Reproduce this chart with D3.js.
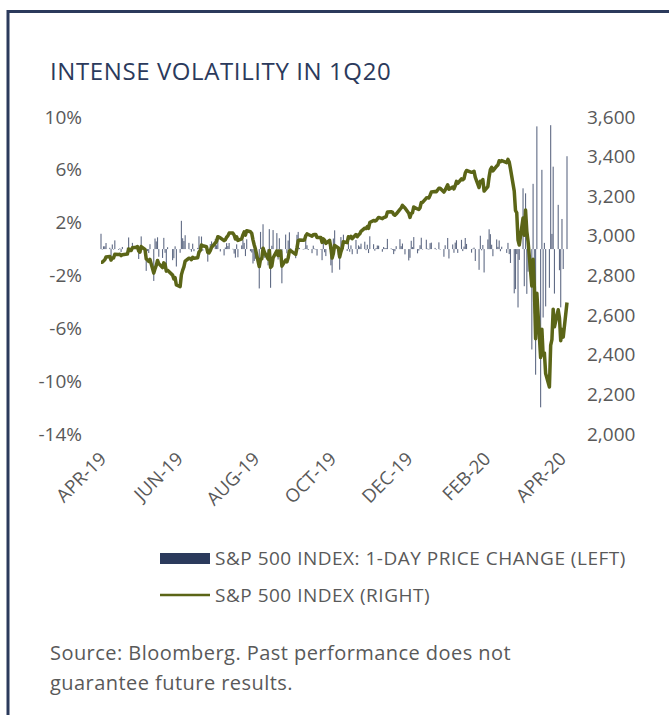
<!DOCTYPE html>
<html>
<head>
<meta charset="utf-8">
<script src="https://cdn.jsdelivr.net/npm/d3@7"></script>
<style>
body{margin:0;background:#fff;}
svg text{font-family:"Open Sans",sans-serif;}
</style>
</head>
<body>
<svg id="chart" width="669" height="715"></svg>
<script>
// trading days, Apr 2019 - Apr 2020
var dates = [
"2019-04-01","2019-04-02","2019-04-03","2019-04-04","2019-04-05","2019-04-08","2019-04-09","2019-04-10","2019-04-11","2019-04-12","2019-04-15","2019-04-16","2019-04-17","2019-04-18","2019-04-22","2019-04-23","2019-04-24","2019-04-25","2019-04-26","2019-04-29","2019-04-30",
"2019-05-01","2019-05-02","2019-05-03","2019-05-06","2019-05-07","2019-05-08","2019-05-09","2019-05-10","2019-05-13","2019-05-14","2019-05-15","2019-05-16","2019-05-17","2019-05-20","2019-05-21","2019-05-22","2019-05-23","2019-05-24","2019-05-28","2019-05-29","2019-05-30","2019-05-31",
"2019-06-03","2019-06-04","2019-06-05","2019-06-06","2019-06-07","2019-06-10","2019-06-11","2019-06-12","2019-06-13","2019-06-14","2019-06-17","2019-06-18","2019-06-19","2019-06-20","2019-06-21","2019-06-24","2019-06-25","2019-06-26","2019-06-27","2019-06-28",
"2019-07-01","2019-07-02","2019-07-03","2019-07-05","2019-07-08","2019-07-09","2019-07-10","2019-07-11","2019-07-12","2019-07-15","2019-07-16","2019-07-17","2019-07-18","2019-07-19","2019-07-22","2019-07-23","2019-07-24","2019-07-25","2019-07-26","2019-07-29","2019-07-30","2019-07-31",
"2019-08-01","2019-08-02","2019-08-05","2019-08-06","2019-08-07","2019-08-08","2019-08-09","2019-08-12","2019-08-13","2019-08-14","2019-08-15","2019-08-16","2019-08-19","2019-08-20","2019-08-21","2019-08-22","2019-08-23","2019-08-26","2019-08-27","2019-08-28","2019-08-29","2019-08-30",
"2019-09-03","2019-09-04","2019-09-05","2019-09-06","2019-09-09","2019-09-10","2019-09-11","2019-09-12","2019-09-13","2019-09-16","2019-09-17","2019-09-18","2019-09-19","2019-09-20","2019-09-23","2019-09-24","2019-09-25","2019-09-26","2019-09-27","2019-09-30",
"2019-10-01","2019-10-02","2019-10-03","2019-10-04","2019-10-07","2019-10-08","2019-10-09","2019-10-10","2019-10-11","2019-10-14","2019-10-15","2019-10-16","2019-10-17","2019-10-18","2019-10-21","2019-10-22","2019-10-23","2019-10-24","2019-10-25","2019-10-28","2019-10-29","2019-10-30","2019-10-31",
"2019-11-01","2019-11-04","2019-11-05","2019-11-06","2019-11-07","2019-11-08","2019-11-11","2019-11-12","2019-11-13","2019-11-14","2019-11-15","2019-11-18","2019-11-19","2019-11-20","2019-11-21","2019-11-22","2019-11-25","2019-11-26","2019-11-27","2019-11-29",
"2019-12-02","2019-12-03","2019-12-04","2019-12-05","2019-12-06","2019-12-09","2019-12-10","2019-12-11","2019-12-12","2019-12-13","2019-12-16","2019-12-17","2019-12-18","2019-12-19","2019-12-20","2019-12-23","2019-12-24","2019-12-26","2019-12-27","2019-12-30","2019-12-31",
"2020-01-02","2020-01-03","2020-01-06","2020-01-07","2020-01-08","2020-01-09","2020-01-10","2020-01-13","2020-01-14","2020-01-15","2020-01-16","2020-01-17","2020-01-21","2020-01-22","2020-01-23","2020-01-24","2020-01-27","2020-01-28","2020-01-29","2020-01-30","2020-01-31",
"2020-02-03","2020-02-04","2020-02-05","2020-02-06","2020-02-07","2020-02-10","2020-02-11","2020-02-12","2020-02-13","2020-02-14","2020-02-18","2020-02-19","2020-02-20","2020-02-21","2020-02-24","2020-02-25","2020-02-26","2020-02-27","2020-02-28",
"2020-03-02","2020-03-03","2020-03-04","2020-03-05","2020-03-06","2020-03-09","2020-03-10","2020-03-11","2020-03-12","2020-03-13","2020-03-16","2020-03-17","2020-03-18","2020-03-19","2020-03-20","2020-03-23","2020-03-24","2020-03-25","2020-03-26","2020-03-27","2020-03-30","2020-03-31",
"2020-04-01","2020-04-02","2020-04-03","2020-04-06"
];

// S&P 500 index level (right axis)
var closes = [
2867,2867,2873,2879,2893,2896,2878,2888,2888,2907,2906,2907,2900,2905,2908,2934,2927,2926,2940,2943,2946,
2924,2918,2946,2932,2884,2879,2871,2881,2812,2834,2851,2876,2860,2840,2864,2856,2822,2826,2802,2783,2789,2752,
2744,2803,2826,2843,2873,2887,2886,2880,2892,2887,2890,2918,2926,2954,2950,2945,2917,2914,2925,2942,
2964,2973,2996,2990,2976,2980,2993,3000,3014,3014,3004,2984,2995,2977,2985,3005,3020,3004,3026,3021,3013,2980,
2954,2932,2845,2882,2884,2938,2919,2883,2926,2841,2848,2889,2924,2901,2924,2923,2847,2878,2869,2888,2925,2926,
2906,2938,2976,2979,2978,2979,3001,3010,3007,2998,3006,3007,3007,2992,2992,2967,2985,2978,2962,2977,
2940,2888,2911,2952,2939,2893,2919,2938,2970,2966,2996,2990,2998,2986,3007,2996,3005,3010,3023,3039,3037,3047,3038,
3067,3078,3075,3077,3085,3093,3087,3092,3094,3097,3120,3122,3120,3108,3104,3110,3134,3141,3154,3141,
3114,3093,3113,3117,3146,3136,3133,3142,3169,3169,3191,3193,3191,3205,3221,3224,3223,3240,3240,3221,3231,
3258,3235,3246,3237,3253,3275,3265,3288,3283,3289,3317,3330,3321,3322,3326,3295,3244,3276,3273,3284,3226,
3249,3298,3335,3346,3328,3352,3358,3379,3374,3380,3370,3386,3373,3338,3226,3128,3116,2979,2954,
3090,3003,3130,3024,2972,2747,2882,2741,2481,2711,2386,2529,2398,2409,2305,2237,2447,2476,2630,2541,2627,2585,
2471,2527,2489,2664
];

// 1-day price change in % (left axis)
var changes = [
1.16,0.00,0.21,0.21,0.46,0.10,-0.61,0.35,0.00,0.66,-0.06,0.05,-0.23,0.16,0.10,0.88,-0.22,-0.04,0.47,0.11,0.10,
-0.75,-0.21,0.96,-0.45,-1.65,-0.16,-0.30,0.37,-2.41,0.80,0.58,0.89,-0.58,-0.67,0.85,-0.28,-1.19,0.14,-0.84,-0.69,0.21,-1.32,
-0.28,2.14,0.82,0.61,1.05,0.47,-0.03,-0.20,0.41,-0.16,0.09,0.97,0.30,0.95,-0.13,-0.17,-0.95,-0.12,0.38,0.58,
0.77,0.29,0.77,-0.18,-0.48,0.12,0.45,0.23,0.46,0.02,-0.34,-0.65,0.36,-0.62,0.28,0.68,0.47,-0.53,0.74,-0.16,-0.26,-1.09,
-0.90,-0.73,-2.98,1.30,0.08,1.88,-0.66,-1.23,1.51,-2.93,0.25,1.44,1.21,-0.79,0.82,-0.05,-2.59,1.10,-0.32,0.65,1.27,0.06,
-0.69,1.08,1.30,0.09,-0.01,0.03,0.72,0.29,-0.07,-0.31,0.26,0.03,0.00,-0.49,-0.01,-0.84,0.62,-0.24,-0.53,0.50,
-1.23,-1.79,0.80,1.42,-0.45,-1.56,0.91,0.64,1.09,-0.14,1.00,-0.20,0.28,-0.39,0.69,-0.36,0.28,0.19,0.41,0.56,-0.08,0.33,-0.30,
0.97,0.37,-0.12,0.07,0.27,0.26,-0.20,0.16,0.07,0.08,0.77,0.05,-0.06,-0.38,-0.16,0.22,0.75,0.22,0.42,-0.40,
-0.86,-0.66,0.63,0.15,0.91,-0.32,-0.11,0.29,0.86,0.01,0.71,0.03,-0.04,0.45,0.49,0.09,-0.02,0.51,0.00,-0.58,0.29,
0.84,-0.71,0.35,-0.28,0.49,0.67,-0.29,0.70,-0.15,0.19,0.84,0.39,-0.27,0.03,0.11,-0.90,-1.57,1.01,-0.09,0.31,-1.77,
0.73,1.50,1.13,0.33,-0.54,0.73,0.17,0.65,-0.16,0.18,-0.29,0.47,-0.38,-1.05,-3.35,-3.03,-0.38,-4.42,-0.82,
4.60,-2.81,4.22,-3.39,-1.71,-7.60,4.94,-4.89,-9.51,9.29,-11.98,6.00,-5.18,0.47,-4.34,-2.93,9.38,1.15,6.24,-3.37,3.35,-1.60,
-4.41,2.28,-1.51,7.03
];

var leftTicks = [10,6,2,-2,-6,-10,-14];
var rightTicks = [3600,3400,3200,3000,2800,2600,2400,2200,2000];
var monthTicks = ["2019-04-01","2019-06-01","2019-08-01","2019-10-01","2019-12-01","2020-02-01","2020-04-01"];
var monthLabels = ["APR-19","JUN-19","AUG-19","OCT-19","DEC-19","FEB-20","APR-20"];
var legendNames = ["S&P 500 INDEX: 1-DAY PRICE CHANGE (LEFT)","S&P 500 INDEX (RIGHT)"];

var navy="#2b3a5c", olive="#5b6517", grey="#595959";
var parse=d3.timeParse("%Y-%m-%d");
var data=dates.map(function(d,i){return {date:parse(d),close:closes[i],chg:changes[i]};});

var svg=d3.select("#chart");

// frame
svg.append("path").attr("d","M8,715L8,11.5L669,11.5").attr("fill","none").attr("stroke",navy).attr("stroke-width",3);

svg.append("text").attr("x",50).attr("y",80).attr("fill",navy)
	.style("font-size","24px").style("letter-spacing","0.6px").text("INTENSE VOLATILITY IN 1Q20");

var x=d3.scaleTime().domain([parse("2019-04-01"),parse("2020-04-06")]).range([101,567]);
var yL=d3.scaleLinear().domain([-14,10]).range([434,117]);
var yR=d3.scaleLinear().domain([2000,3600]).range([434,117]);

// bars
svg.append("g").selectAll("rect").data(data).enter().append("rect")
	.attr("x",function(d){return x(d.date)-0.55;})
	.attr("width",1.1)
	.attr("y",function(d){return Math.min(yL(d.chg),yL(0));})
	.attr("height",function(d){return Math.max(0.5,Math.abs(yL(d.chg)-yL(0)));})
	.attr("fill",navy).attr("fill-opacity",0.75);

// line
var line=d3.line().x(function(d){return x(d.date);}).y(function(d){return yR(d.close);});
svg.append("path").datum(data).attr("d",line).attr("fill","none").attr("stroke",olive)
	.attr("stroke-width",3.5).attr("stroke-linejoin","round");

// axes
var ax1=svg.append("g").attr("transform","translate(82,0)")
	.call(d3.axisLeft(yL).tickValues(leftTicks).tickSize(0).tickPadding(0).tickFormat(function(d){return d+"%";}));
var ax2=svg.append("g").attr("transform","translate(587,0)")
	.call(d3.axisRight(yR).tickValues(rightTicks).tickSize(0).tickPadding(0).tickFormat(d3.format(",")));
var ax3=svg.append("g").attr("transform","translate(0,452)")
	.call(d3.axisBottom(x).tickValues(monthTicks.map(parse)).tickSize(0).tickPadding(0).tickFormat(function(d,i){return monthLabels[i];}));
ax3.selectAll("text").attr("text-anchor","end").attr("dy","0").attr("transform","translate(6,8) rotate(-45)");
[ax1,ax2,ax3].forEach(function(a){
	a.select(".domain").remove();
	a.selectAll("text").attr("fill",grey).style("font-size","19px").style("font-family","'Open Sans',sans-serif");
});
ax3.selectAll("text").style("font-size","18.5px");

// legend
var lg=svg.append("g");
lg.append("rect").attr("x",160).attr("y",553).attr("width",50).attr("height",11).attr("fill",navy);
lg.append("line").attr("x1",160).attr("x2",210).attr("y1",595).attr("y2",595).attr("stroke",olive).attr("stroke-width",2.5);
lg.selectAll("text").data(legendNames).enter().append("text")
	.attr("x",215).attr("y",function(d,i){return 565+i*37;})
	.attr("fill",grey).style("font-size","19px").style("letter-spacing","0.5px").text(function(d){return d;});

// source
svg.append("text").attr("x",50).attr("y",660).attr("fill",grey).style("font-size","20px").style("letter-spacing","0.45px")
	.text("Source: Bloomberg. Past performance does not");
svg.append("text").attr("x",50).attr("y",690).attr("fill",grey).style("font-size","20px").style("letter-spacing","0.45px")
	.text("guarantee future results.");
</script>
</body>
</html>
